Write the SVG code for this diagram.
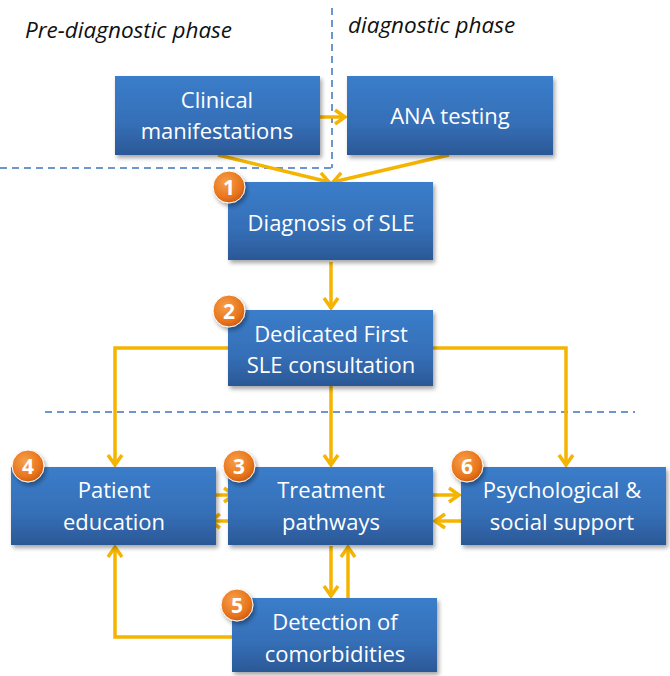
<svg xmlns="http://www.w3.org/2000/svg" width="670" height="676" viewBox="0 0 670 676">
<defs>
<linearGradient id="boxg" x1="0" y1="0" x2="0" y2="1">
<stop offset="0" stop-color="#3B7DCA"/>
<stop offset="0.6" stop-color="#356FB7"/>
<stop offset="1" stop-color="#2B5896"/>
</linearGradient>
<radialGradient id="badg" cx="0.4" cy="0.35" r="0.7">
<stop offset="0" stop-color="#F7A04A"/>
<stop offset="0.7" stop-color="#E8741C"/>
<stop offset="1" stop-color="#C9590C"/>
</radialGradient>
<filter id="sh" x="-10%" y="-10%" width="125%" height="130%">
<feDropShadow dx="2" dy="3" stdDeviation="2" flood-color="#000" flood-opacity="0.35"/>
</filter>
<marker id="ah" markerUnits="userSpaceOnUse" markerWidth="16" markerHeight="18" refX="11" refY="8" orient="auto" viewBox="0 0 16 16">
<path d="M1,1 L11,8 L1,15" fill="none" stroke="#F5B400" stroke-width="3.5" stroke-linejoin="miter"/>
</marker>
</defs>
<style>
.box{fill:url(#boxg);filter:url(#sh);}
.t{font-family:"Open Sans","Liberation Sans",sans-serif;font-size:22px;fill:#fff;text-anchor:middle;}
.h{font-family:"Open Sans","Liberation Sans",sans-serif;font-size:22.5px;font-style:italic;fill:#111;}
.c{fill:none;stroke:#F5B400;stroke-width:3.5;}
.a{marker-end:url(#ah);}
.d{fill:none;stroke:#3E74BF;stroke-width:1.5;stroke-dasharray:7,5;}
.bc{fill:url(#badg);stroke:#fff;stroke-width:1;filter:url(#sh);}
.bn{font-family:"Open Sans","Liberation Sans",sans-serif;font-size:21px;font-weight:bold;fill:#fff;text-anchor:middle;}
</style>
<rect width="670" height="676" fill="#fff"/>
<g id="phases">
<path class="d" d="M332,8 L332,168 M0,168 L332,168"/>
<path class="d" d="M45,412 L635,412"/>
<text class="h" x="25" y="38">Pre-diagnostic phase</text>
<text class="h" x="348" y="33">diagnostic phase</text>
</g>
<g id="connectors">
<path class="c a" d="M320,117 L345,117"/>
<path class="c a" d="M218,155 L329,182"/>
<path class="c a" d="M449,155 L333,182"/>
<path class="c a" d="M331,262 L331,308"/>
<path class="c a" d="M228,348 L115,348 L115,465"/>
<path class="c a" d="M433,348 L566,348 L566,465"/>
<path class="c a" d="M331,386 L331,465"/>
<path class="c a" d="M208,495 L234,495"/>
<path class="c a" d="M236,521 L210,521"/>
<path class="c a" d="M433,495 L459,495"/>
<path class="c a" d="M461,521 L435,521"/>
<path class="c a" d="M331,546 L331,596"/>
<path class="c a" d="M348,598 L348,547"/>
<path class="c a" d="M232,637 L115,637 L115,547"/>
</g>
<g id="n-clinical">
<rect class="box" x="115" y="76" width="205" height="79"/>
<text class="t" x="217" y="108">Clinical</text>
<text class="t" x="217" y="139">manifestations</text>
</g>
<g id="n-ana">
<rect class="box" x="347" y="76" width="206" height="79"/>
<text class="t" x="450" y="124">ANA testing</text>
</g>
<g id="n-diagnosis">
<rect class="box" x="228" y="182" width="205" height="78"/>
<text class="t" x="331" y="231">Diagnosis of SLE</text>
<circle class="bc" cx="229" cy="187" r="16"/>
<text class="bn" x="229" y="194.5">1</text>
</g>
<g id="n-first">
<rect class="box" x="228" y="310" width="205" height="76"/>
<text class="t" x="331" y="342">Dedicated First</text>
<text class="t" x="331" y="373">SLE consultation</text>
<circle class="bc" cx="229" cy="311" r="16"/>
<text class="bn" x="229" y="318.5">2</text>
</g>
<g id="n-education">
<rect class="box" x="11" y="467" width="205" height="78"/>
<text class="t" x="114" y="498">Patient</text>
<text class="t" x="114" y="530">education</text>
<circle class="bc" cx="28" cy="466" r="16"/>
<text class="bn" x="28" y="473.5">4</text>
</g>
<g id="n-treatment">
<rect class="box" x="228" y="467" width="205" height="78"/>
<text class="t" x="331" y="498">Treatment</text>
<text class="t" x="331" y="530">pathways</text>
<circle class="bc" cx="239" cy="466" r="16"/>
<text class="bn" x="239" y="473.5">3</text>
</g>
<g id="n-psych">
<rect class="box" x="461" y="467" width="205" height="78"/>
<text class="t" x="562" y="498">Psychological &amp;</text>
<text class="t" x="562" y="530">social support</text>
<circle class="bc" cx="467" cy="466" r="16"/>
<text class="bn" x="467" y="473.5">6</text>
</g>
<g id="n-comorb">
<rect class="box" x="232" y="598" width="205" height="74"/>
<text class="t" x="335" y="630">Detection of</text>
<text class="t" x="335" y="662">comorbidities</text>
<circle class="bc" cx="237" cy="605" r="16"/>
<text class="bn" x="237" y="612.5">5</text>
</g>
</svg>
